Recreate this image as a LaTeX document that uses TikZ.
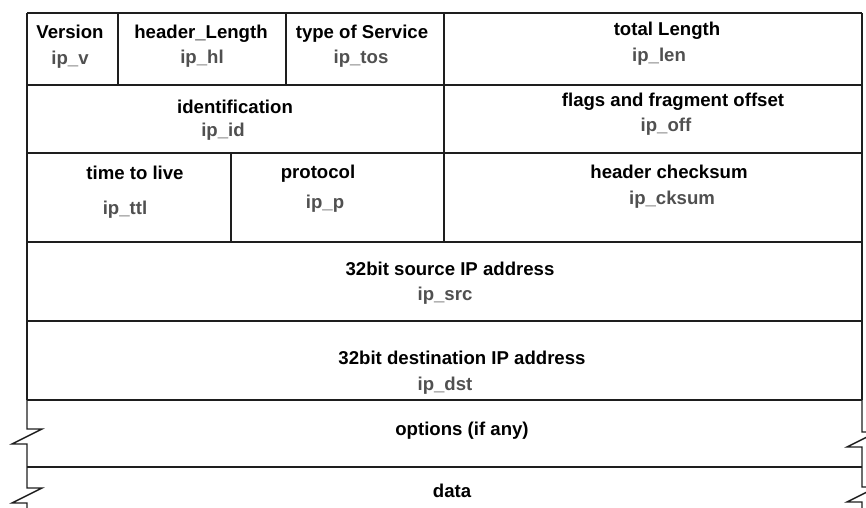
\documentclass[tikz,border=0pt]{standalone}
\usepackage{fontspec}
\setmainfont{Liberation Sans}
\definecolor{rule}{HTML}{1E1E1E}
\definecolor{fieldgray}{HTML}{505050}
\begin{document}
\begin{tikzpicture}[x=1pt,y=-1pt,
  line/.style={draw=rule,line width=1.4pt},
  lbl/.style={anchor=base,inner sep=0pt,font=\fontsize{18.6}{20}\selectfont\bfseries,text=black},
  fld/.style={anchor=base,inner sep=0pt,font=\fontsize{18.6}{20}\selectfont\bfseries,text=fieldgray}]
\useasboundingbox (0,0) rectangle (866,507);
\clip (0,0) rectangle (866,507);

% frame of the header words
\draw[line] (27,13) -- (862,13);
\draw[line] (27,85) -- (862,85);
\draw[line] (27,153) -- (862,153);
\draw[line] (27,242) -- (862,242);
\draw[line] (27,321) -- (862,321);
\draw[line] (27,400) -- (862,400);
\draw[line] (27,467) -- (862,467);
% outer sides of the fixed header
\draw[line] (27,13) -- (27,400);
\draw[line] (862,13) -- (862,400);
% field separators
\draw[line] (118,13) -- (118,85);
\draw[line] (286,13) -- (286,85);
\draw[line] (444,13) -- (444,242);
\draw[line] (231,153) -- (231,242);

% broken sides of the variable-length part
\draw[line,line join=miter] (27,400) -- (27,429) -- (42,429) -- (12,444) -- (27,444)
  -- (27,488) -- (42,488) -- (12,503) -- (27,503) -- (27,520);
\draw[line,line join=miter] (862,400) -- (862,432) -- (877,432) -- (847,447) -- (862,447)
  -- (862,487) -- (877,487) -- (847,502) -- (862,502) -- (862,520);

% row 1
\node[lbl] (ver) at (70,38) {Version};
\node[fld] (ipv) at (70,64) {ip\_v};
\node[lbl] (hl) at (201,38) {header\_Length};
\node[fld] (iphl) at (202,63) {ip\_hl};
\node[lbl] (tos) at (362,38) {type of Service};
\node[fld] (iptos) at (361,63) {ip\_tos};
\node[lbl] (len) at (667,35) {total Length};
\node[fld] (iplen) at (659,61) {ip\_len};
% row 2
\node[lbl] (id) at (235,113) {identification};
\node[fld] (ipid) at (223,136) {ip\_id};
\node[lbl] (off) at (673,106) {flags and fragment offset};
\node[fld] (ipoff) at (666,131) {ip\_off};
% row 3
\node[lbl] (ttl) at (135,179) {time to live};
\node[fld] (ipttl) at (125,214) {ip\_ttl};
\node[lbl] (proto) at (318,178) {protocol};
\node[fld] (ipp) at (325,208) {ip\_p};
\node[lbl] (ck) at (669,178) {header checksum};
\node[fld] (ipck) at (672,204) {ip\_cksum};
% row 4
\node[lbl] (src) at (450,275) {32bit source IP address};
\node[fld] (ipsrc) at (445,300) {ip\_src};
% row 5
\node[lbl] (dst) at (462,364) {32bit destination IP address};
\node[fld] (ipdst) at (445,390) {ip\_dst};
% options and payload
\node[lbl] (opt) at (462,435) {options (if any)};
\node[lbl] (data) at (452,497) {data};
\end{tikzpicture}
\end{document}
